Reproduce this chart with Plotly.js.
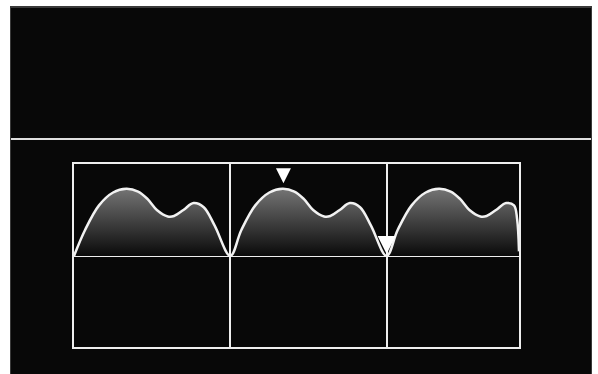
<!DOCTYPE html>
<html>
<head>
<meta charset="utf-8">
<script src="https://cdn.plot.ly/plotly-3.0.1.min.js"></script>
<style>
  html, body { margin: 0; padding: 0; background: #ffffff; width: 598px; height: 374px; overflow: hidden; }
  #frame { position: absolute; left: 10px; top: 6px; width: 582px; height: 368px; background: #3a3a3a; }
  #chart { position: absolute; left: 1px; top: 2px; width: 580px; height: 366px; }
</style>
</head>
<body>
<div id="frame"><div id="chart"></div></div>
<script>
// One cycle of the waveform: phase within the cycle (0..1) and level
const cyclePhase = [0, 0.07, 0.16, 0.25, 0.335, 0.41, 0.47, 0.53, 0.60, 0.64, 0.70, 0.765, 0.83, 0.90, 1.0];
const cycleLevel = [0, 0.28, 0.55, 0.69, 0.73, 0.70, 0.62, 0.50, 0.43, 0.435, 0.50, 0.575, 0.53, 0.33, 0];

// The last cycle is cut off at the right edge of the window
const tailPhase = [0.815, 0.835, 0.847];
const tailLevel = [0.55, 0.40, 0.05];

const cycleStarts = [0, 1, 2];

// Markers: a peak marker and a cycle (trigger) marker
const markerX = [1.34, 2.0];
const markerY = [0.79, 0.02];

// Build the trace from the cycles
const waveX = [], waveY = [];
cycleStarts.forEach((start, i) => {
  const last = i === cycleStarts.length - 1;
  cyclePhase.forEach((p, j) => {
    if (i > 0 && j === 0) return;
    if (last && p > 0.77) return;
    waveX.push(start + p);
    waveY.push(cycleLevel[j]);
  });
  if (last) {
    tailPhase.forEach((p, j) => { waveX.push(start + p); waveY.push(tailLevel[j]); });
  }
});

const wave = {
  x: waveX, y: waveY,
  type: 'scatter', mode: 'lines',
  line: { color: '#f2f2f2', width: 2.5, shape: 'spline', smoothing: 1 },
  fill: 'tozeroy',
  fillgradient: {
    type: 'vertical',
    start: 0, stop: 0.73,
    colorscale: [[0, '#0a0a0a'], [1, '#747474']]
  },
  hoverinfo: 'skip'
};

const markers = {
  x: markerX, y: markerY,
  type: 'scatter', mode: 'markers',
  opacity: 1,
  marker: { symbol: 'arrow-down', size: [15, 18], color: '#ffffff', opacity: 1, line: { width: 0, color: '#ffffff' } },
  hoverinfo: 'skip'
};

const plotW = 445, marginL = 63, marginR = 72, marginT = 156, marginB = 27;
const plotH = 366 - marginT - marginB;

const layout = {
  width: 580, height: 366,
  margin: { l: marginL, r: marginR, t: marginT, b: marginB, pad: 0 },
  paper_bgcolor: '#080808',
  plot_bgcolor: '#080808',
  showlegend: false,
  xaxis: {
    range: [0, 2.847],
    tickvals: [1, 2],
    showticklabels: false, ticks: '',
    showgrid: true, gridcolor: '#eeeeee', gridwidth: 2,
    zeroline: false,
    showline: true, mirror: true, linecolor: '#eeeeee', linewidth: 2,
    fixedrange: true
  },
  yaxis: {
    range: [-0.99, 1],
    showticklabels: false, ticks: '',
    showgrid: false,
    zeroline: true, zerolinecolor: '#eeeeee', zerolinewidth: 2,
    showline: true, mirror: true, linecolor: '#eeeeee', linewidth: 2,
    fixedrange: true
  },
  shapes: [{
    type: 'line', xref: 'paper', yref: 'paper',
    x0: -marginL / plotW, x1: (580 - marginL) / plotW,
    y0: 1 + 25 / plotH, y1: 1 + 25 / plotH,
    line: { color: '#e0e0e0', width: 2 }
  }]
};

Plotly.newPlot('chart', [wave, markers], layout, { displayModeBar: false, staticPlot: true });
</script>
</body>
</html>
